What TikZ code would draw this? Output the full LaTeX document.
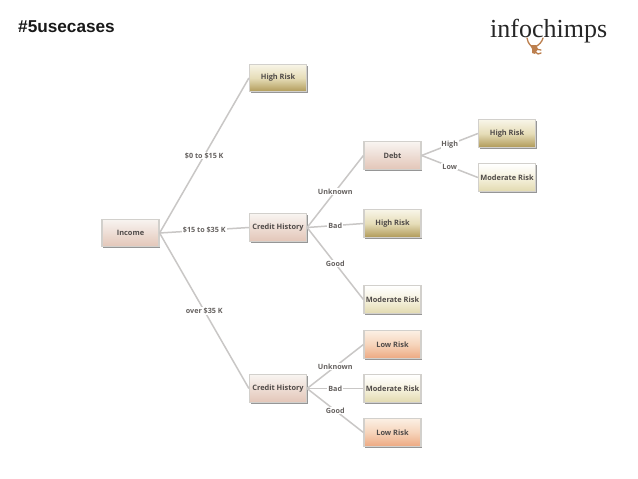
\documentclass[tikz,border=0pt]{standalone}
\usepackage{fontspec}
\setmainfont{Liberation Sans}
\newfontfamily\boxfont{Open Sans}
\newfontfamily\logofont{Liberation Serif}
\usetikzlibrary{shadows}
\definecolor{txt}{HTML}{504B49}
\definecolor{linec}{HTML}{C9C7C6}
\definecolor{edgec}{HTML}{D2D0CC}
\definecolor{F2}{HTML}{F8F4F1}
\definecolor{attrc}{HTML}{E3C6B8}
\definecolor{highT}{HTML}{F8F5E8}
\definecolor{highM}{HTML}{E6DDB8}
\definecolor{highB}{HTML}{B09A58}
\definecolor{modM}{HTML}{F6F2DE}
\definecolor{modB}{HTML}{E2DAB0}
\definecolor{lowT}{HTML}{FBEFE4}
\definecolor{lowM}{HTML}{F6D4BA}
\definecolor{lowB}{HTML}{EDA982}
\definecolor{monkey}{HTML}{BC7F4E}
\tikzset{
  x=1pt,y=-1pt,
  riskbox/.style={rectangle,minimum width=57pt,minimum height=27.5pt,inner sep=0pt,draw=edgec,line width=1.2pt,
    font=\boxfont\bfseries\fontsize{7.4}{9}\selectfont,text=txt,
    drop shadow={shadow xshift=1pt,shadow yshift=-1.4pt,fill=black!55,opacity=.75}},
  attr/.style={riskbox,top color=F2,bottom color=attrc},
  high/.style={riskbox,top color=highT,bottom color=highB,middle color=highM},
  moder/.style={riskbox,top color=white,bottom color=modB,middle color=modM},
  low/.style={riskbox,top color=lowT,bottom color=lowB,middle color=lowM},
  conn/.style={draw=linec,line width=1.5pt},
  lab/.style={fill=white,inner sep=1pt,font=\boxfont\bfseries\fontsize{7.2}{8}\selectfont,text=txt!88!white},
}
\begin{document}
\begin{tikzpicture}
\useasboundingbox (0,0) rectangle (638,479);
\fill[white] (0,0) rectangle (638,479);
\node[anchor=west,inner sep=0pt,font=\bfseries\fontsize{17.2}{19}\selectfont,text=black!90] (title) at (18,27) {\#5usecases};
\node[anchor=west,inner sep=0pt,font=\logofont\fontsize{26}{30}\selectfont,text=black!85] (logo) at (490,31) {infochimps};
% monkey
\draw[monkey,line width=1.3pt,line cap=round] (527,38) .. controls (528,44) and (531,46) .. (533,47);
\draw[monkey,line width=1.3pt,line cap=round] (543,38) .. controls (542,42) and (539,45) .. (535,47);
\fill[monkey] (530,45) -- (536,45) -- (538,49) -- (536,52) -- (535,54) -- (532,53) -- (532,49) -- cycle;
\draw[monkey,line width=1.3pt,line cap=round] (535,49) -- (541,50) (534,51) -- (538,54) -- (541,53);
%
\node[attr] (income) at (130.5,233) {Income};
\node[high] (r1) at (278,78) {High Risk};
\node[attr] (ch1) at (278,227.5) {Credit History};
\node[attr] (ch2) at (278,388.5) {Credit History};
\node[attr] (debt) at (392.5,155.5) {Debt};
\node[high] (r2) at (507,133.5) {High Risk};
\node[moder] (r3) at (507,177.5) {Moderate Risk};
\node[high] (r4) at (392.5,223.5) {High Risk};
\node[moder] (r5) at (392.5,299.5) {Moderate Risk};
\node[low] (r6) at (392.5,344.5) {Low Risk};
\node[moder] (r7) at (392.5,388.5) {Moderate Risk};
\node[low] (r8) at (392.5,432.5) {Low Risk};
\draw[conn] (income.east) -- node[lab,pos=.5] (l1) {\$0 to \$15 K} (r1.west);
\draw[conn] (income.east) -- node[lab,pos=.5] (l2) {\$15 to \$35 K} (ch1.west);
\draw[conn] (income.east) -- node[lab,pos=.5] (l3) {over \$35 K} (ch2.west);
\draw[conn] (ch1.east) -- node[lab,pos=.5] (l4) {Unknown} (debt.west);
\draw[conn] (ch1.east) -- node[lab,pos=.5] (l5) {Bad} (r4.west);
\draw[conn] (ch1.east) -- node[lab,pos=.5] (l6) {Good} (r5.west);
\draw[conn] (debt.east) -- node[lab,pos=.5] (l7) {High} (r2.west);
\draw[conn] (debt.east) -- node[lab,pos=.5] (l8) {Low} (r3.west);
\draw[conn] (ch2.east) -- node[lab,pos=.5] (l9) {Unknown} (r6.west);
\draw[conn] (ch2.east) -- node[lab,pos=.5] (l10) {Bad} (r7.west);
\draw[conn] (ch2.east) -- node[lab,pos=.5] (l11) {Good} (r8.west);
\end{tikzpicture}
\end{document}
